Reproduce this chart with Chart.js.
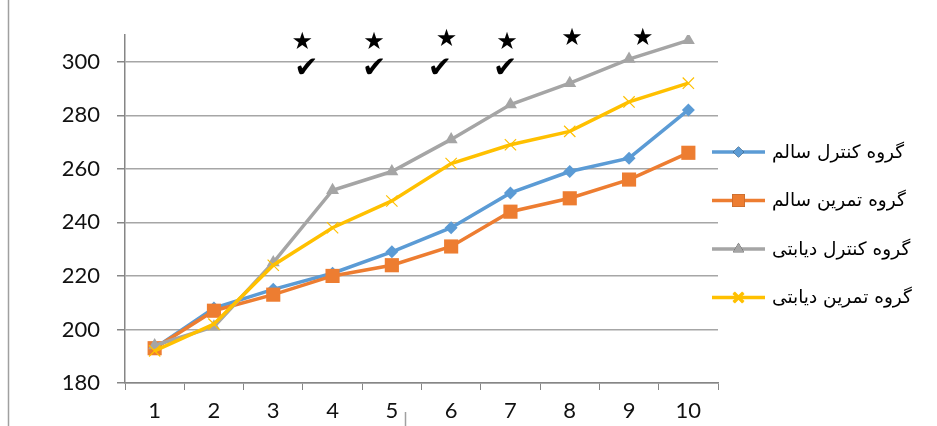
<!DOCTYPE html>
<html>
<head>
<meta charset="utf-8">
<script src="https://cdn.jsdelivr.net/npm/chart.js@4.4.1/dist/chart.umd.min.js"></script>
<style>
  html, body { margin: 0; padding: 0; background: #fff; }
  #wrap { position: relative; width: 937px; height: 426px; }
</style>
</head>
<body>
<div id="wrap"><canvas id="c" width="937" height="426"></canvas></div>
<script>
// Sessions 1..10
const categories = ['1', '2', '3', '4', '5', '6', '7', '8', '9', '10'];

const seriesNames = ['گروه کنترل سالم', 'گروه تمرین سالم', 'گروه کنترل دیابتی', 'گروه تمرین دیابتی'];
const controlHealthy  = [193, 208, 215, 221, 229, 238, 251, 259, 264, 282];
const trainHealthy    = [193, 207, 213, 220, 224, 231, 244, 249, 256, 266];
const controlDiabetic = [194, 201, 225, 252, 259, 271, 284, 292, 301, 308];
const trainDiabetic   = [192, 202, 224, 238, 248, 262, 269, 274, 285, 292];

// significance marks: [category position, value]
const starMarks  = [[2.49, 307], [3.70, 307], [4.92, 308.2], [5.94, 307], [7.04, 308.6], [8.23, 308.6]];
const checkMarks = [[2.56, 297.0], [3.70, 297.0], [4.81, 297.0], [5.91, 297.0]];

const colors = ['#5B9BD5', '#ED7D31', '#A5A5A5', '#FFC000'];
const styles = ['rectRot', 'rect', 'triangle', 'crossRot'];
const radii  = [6.5, 10, 7.5, 8];
const series = [controlHealthy, trainHealthy, controlDiabetic, trainDiabetic];

const datasets = series.map((d, i) => ({
  label: seriesNames[i],
  data: d,
  borderColor: colors[i],
  backgroundColor: colors[i],
  borderWidth: 3.5,
  pointStyle: styles[i],
  pointRadius: radii[i],
  pointHoverRadius: radii[i],
  pointBorderWidth: i === 3 ? 1.2 : 0,
  pointBorderColor: colors[i],
  pointBackgroundColor: colors[i],
  tension: 0,
  order: 4 - i
}));

const gridGray = '#A6A6A6';
const axisGray = '#868686';

const decorations = {
  id: 'decorations',
  beforeDraw(chart) {
    const ctx = chart.ctx;
    ctx.save();
    ctx.strokeStyle = '#A0A0A0';
    ctx.lineWidth = 1.5;
    ctx.beginPath();
    ctx.moveTo(8.5, 0); ctx.lineTo(8.5, 426);
    ctx.moveTo(405.5, 412); ctx.lineTo(405.5, 426);
    ctx.stroke();
    ctx.restore();
  },
  afterDraw(chart) {
    const ctx = chart.ctx;
    const xs = chart.scales.x, ys = chart.scales.y;
    ctx.save();
    ctx.fillStyle = '#000';
    ctx.textAlign = 'center';
    ctx.textBaseline = 'middle';
    ctx.font = '24px "DejaVu Sans"';
    starMarks.forEach(([c, v]) => ctx.fillText('★', xs.getPixelForValue(c), ys.getPixelForValue(v)));
    ctx.font = '29px "DejaVu Sans"';
    checkMarks.forEach(([c, v]) => ctx.fillText('✔', xs.getPixelForValue(c), ys.getPixelForValue(v)));

    // legend: line sample with marker, then label
    chart.data.datasets.forEach((ds, i) => {
      const y = 152 + i * 48.5;
      ctx.strokeStyle = ds.borderColor;
      ctx.lineWidth = 3.5;
      ctx.beginPath();
      ctx.moveTo(712, y); ctx.lineTo(765, y);
      ctx.stroke();
      Chart.helpers.drawPoint(ctx, {
        pointStyle: ds.pointStyle, radius: ds.pointRadius * (i === 1 ? 0.9 : 0.85), rotation: 0,
        borderWidth: ds.pointBorderWidth
      }, 738.5, y);
      ctx.fillStyle = ds.backgroundColor;
      ctx.strokeStyle = ds.borderColor;
      ctx.lineWidth = ds.pointBorderWidth;
      if (ds.pointStyle === 'crossRot') ctx.stroke(); else ctx.fill();
      ctx.fillStyle = '#000';
      ctx.textAlign = 'left';
      ctx.font = '18.5px "DejaVu Sans"';
      ctx.fillText(ds.label, 772, y + 1);
    });
    ctx.restore();
  }
};

new Chart(document.getElementById('c'), {
  type: 'line',
  data: { labels: categories, datasets },
  options: {
    responsive: false,
    animation: false,
    events: [],
    layout: { padding: { top: 35, right: 219, left: 0, bottom: 0 } },
    plugins: { legend: { display: false }, tooltip: { enabled: false } },
    scales: {
      x: {
        offset: true,
        grid: { offset: true, drawOnChartArea: false, drawTicks: true, tickLength: 7, color: axisGray, lineWidth: 1 },
        border: { color: axisGray, width: 1.5 },
        ticks: { color: '#111', font: { family: 'Lato', size: 22 }, padding: 8, maxRotation: 0 },
        afterFit(s) { s.height = 43; }
      },
      y: {
        min: 180, max: 310,
        grid: { color: gridGray, lineWidth: 1.5, tickLength: 8, tickColor: axisGray },
        border: { color: axisGray, width: 1.5 },
        ticks: { stepSize: 20, includeBounds: false, color: '#111', font: { family: 'Lato', size: 22 }, padding: 17 },
        afterFit(s) { s.width = 125; }
      }
    }
  },
  plugins: [decorations]
});
</script>
</body>
</html>
